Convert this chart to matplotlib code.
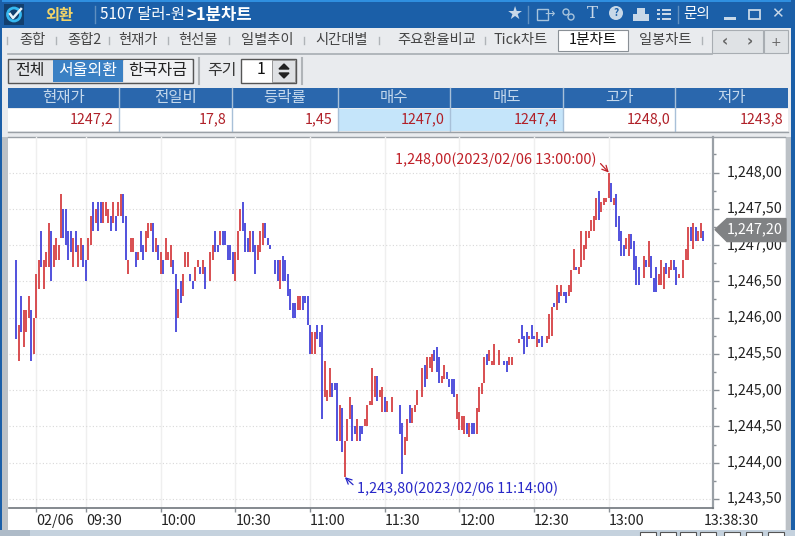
import numpy as np
import matplotlib
matplotlib.use("Agg")
import matplotlib.pyplot as plt
from matplotlib.patches import Rectangle, Polygon, Circle
from matplotlib.ticker import FixedLocator
from matplotlib.transforms import ScaledTranslation

plt.rcParams['font.family'] = ['Noto Sans CJK KR', 'DejaVu Sans']

# 1 minute bars, index 0 = 09:02, nan = no bar that minute
nan = float('nan')
highs = [1246.8, 1245.9, 1246.3, 1246.1, 1246.1, 1246.3, 1246.1, 1246.0, 1246.6, 1246.8,
         1247.2, 1246.8, 1246.9, 1247.3, 1247.2, 1247.0, 1247.1, 1247.0, 1247.7, 1247.5,
         1247.5, 1247.2, 1247.2, 1247.1, 1247.2, 1247.0, 1247.1, 1247.0, 1246.8, 1247.1,
         1247.4, 1247.6, 1247.5, 1247.6, 1247.6, 1247.6, 1247.6, 1247.5, 1247.4, 1247.6,
         1247.4, 1247.6, 1247.7, 1247.7, 1247.4, 1246.8, 1247.1, 1247.1, 1246.9, 1246.9,
         1247.2, 1247.0, 1247.2, 1247.3, 1247.3, 1247.3, 1247.1, 1247.0, 1246.9, 1246.8,
         1247.1, 1246.9, 1247.0, 1246.8, 1246.6, 1246.4, 1246.5, 1246.6, 1246.9, 1246.9,
         1246.6, 1246.5, 1246.7, 1246.8, 1246.7, 1246.8, 1246.7, nan, 1246.9, 1247.0,
         1247.2, 1247.0, 1247.2, 1247.2, 1247.2, 1247.0, 1247.0, 1246.9, 1246.9, 1247.2,
         1247.5, 1247.6, 1247.3, 1247.1, 1247.2, 1247.2, 1247.0, 1247.0, 1247.2, 1247.3,
         1247.3, 1247.1, 1247.0, nan, 1246.8, 1246.8, 1246.8, 1246.85, 1246.8, 1246.6,
         1246.4, 1246.2, 1246.2, 1246.3, 1246.3, 1246.3, 1246.3, 1246.3, 1245.9, 1245.8,
         1245.8, 1245.9, 1245.8, 1245.9, 1245.4, 1245.0, 1245.3, 1245.1, 1245.1, 1245.1,
         1244.8, 1244.75, 1244.3, 1244.6, 1244.9, 1244.8, 1244.5, 1244.6, 1244.5, 1244.5,
         1244.6, 1244.8, 1244.85, 1245.3, 1245.2, 1245.2, 1245.0, 1245.05, 1244.9, 1244.85,
         nan, 1244.9, nan, nan, 1244.8, 1244.55, 1244.35, 1244.6, 1244.8, 1244.75,
         1244.8, 1245.0, nan, 1245.3, 1245.35, 1245.45, 1245.45, 1245.5, 1245.55, 1245.6,
         1245.45, 1245.2, 1245.35, 1245.25, 1245.15, 1245.15, 1245.15, 1244.95, 1244.7, 1244.65,
         1244.65, 1244.55, 1244.55, 1244.55, 1244.55, 1244.75, 1245.05, 1245.1, 1245.45, 1245.5,
         1245.55, 1245.4, 1245.63, nan, 1245.55, nan, 1245.4, 1245.4, 1245.45, 1245.45,
         nan, nan, 1245.7, 1245.9, 1245.75, 1245.8, 1245.75, 1245.9, 1245.75, 1245.8,
         1245.7, 1245.75, nan, 1245.75, 1246.05, 1246.15, 1246.2, 1246.45, 1246.35, 1246.45,
         1246.35, 1246.35, 1246.45, 1246.65, 1246.95, 1246.7, 1246.7, 1247.2, 1247.0, 1247.2,
         1247.2, 1247.35, 1247.4, 1247.65, 1247.75, 1247.6, 1247.65, 1247.65, 1248.0, 1247.85,
         1247.65, 1247.7, 1247.4, 1247.2, 1247.0, 1247.1, 1247.15, 1247.15, 1247.05, 1246.85,
         1246.7, nan, 1246.85, 1246.8, 1247.05, 1246.85, 1246.55, 1246.7, 1246.6, 1246.8,
         1246.7, 1246.75, 1246.7, 1246.8, 1246.8, 1246.7, 1246.6, nan, 1246.8, 1246.95,
         1247.25, 1247.25, 1247.3, 1247.25, 1247.2, 1247.3, 1247.2]
lows = [1245.7, 1245.4, 1245.8, 1245.6, 1245.8, 1246.0, 1245.4, 1245.5, 1246.0, 1246.4,
        1246.7, 1246.4, 1246.7, 1246.7, 1246.5, 1246.7, 1246.8, 1246.8, 1247.1, 1247.1,
        1247.0, 1246.8, 1246.9, 1246.7, 1246.9, 1246.7, 1246.8, 1246.7, 1246.5, 1246.8,
        1247.0, 1247.2, 1247.3, 1247.2, 1247.3, 1247.3, 1247.4, 1247.3, 1247.2, 1247.3,
        1247.2, 1247.4, 1247.4, 1247.3, 1246.8, 1246.6, 1246.9, 1246.9, 1246.7, 1246.8,
        1246.9, 1246.8, 1246.9, 1247.1, 1247.2, 1246.9, 1246.9, 1246.8, 1246.6, 1246.6,
        1246.8, 1246.8, 1246.7, 1246.6, 1245.8, 1246.0, 1246.2, 1246.3, 1246.7, 1246.7,
        1246.5, 1246.4, 1246.5, 1246.7, 1246.6, 1246.6, 1246.4, nan, 1246.5, 1246.8,
        1246.9, 1246.9, 1247.0, 1247.0, 1247.0, 1246.8, 1246.8, 1246.6, 1246.5, 1246.8,
        1247.2, 1247.2, 1246.9, 1246.9, 1246.9, 1246.9, 1246.6, 1246.8, 1246.9, 1247.0,
        1247.1, 1247.0, 1246.95, nan, 1246.6, 1246.5, 1246.4, 1246.5, 1246.5, 1246.3,
        1246.1, 1246.0, 1246.0, 1246.1, 1246.1, 1246.1, 1246.2, 1245.9, 1245.5, 1245.5,
        1245.5, 1245.7, 1245.6, 1244.6, 1244.9, 1244.85, 1244.9, 1244.9, 1245.0, 1244.3,
        1244.3, 1244.15, 1243.8, 1244.3, 1244.6, 1244.3, 1244.4, 1244.3, 1244.3, 1244.4,
        1244.5, 1244.5, 1244.8, 1244.8, 1244.9, 1244.85, 1244.9, 1244.7, 1244.7, 1244.7,
        nan, 1244.7, nan, nan, 1244.4, 1243.85, 1244.1, 1244.3, 1244.55, 1244.55,
        1244.7, 1244.8, nan, 1244.9, 1245.05, 1245.15, 1245.3, 1245.25, 1245.4, 1245.25,
        1245.1, 1245.1, 1245.15, 1245.15, 1245.05, 1244.95, 1244.9, 1244.6, 1244.45, 1244.45,
        1244.4, 1244.4, 1244.35, 1244.4, 1244.4, 1244.4, 1244.7, 1244.95, 1245.1, 1245.35,
        1245.4, 1245.35, 1245.35, nan, 1245.35, nan, 1245.35, 1245.25, 1245.35, 1245.35,
        nan, nan, 1245.65, 1245.7, 1245.5, 1245.6, 1245.7, 1245.7, 1245.7, 1245.6,
        1245.65, 1245.6, nan, 1245.65, 1245.7, 1245.75, 1246.15, 1246.1, 1246.2, 1246.3,
        1246.3, 1246.2, 1246.3, 1246.35, 1246.65, 1246.65, 1246.6, 1246.7, 1246.8, 1246.95,
        1247.1, 1247.2, 1247.2, 1247.35, 1247.35, 1247.45, 1247.55, 1247.6, 1247.65, 1247.6,
        1247.55, 1247.25, 1247.05, 1246.85, 1246.85, 1246.95, 1246.85, 1246.95, 1246.65, 1246.45,
        1246.45, nan, 1246.55, 1246.7, 1246.7, 1246.55, 1246.35, 1246.35, 1246.45, 1246.45,
        1246.4, 1246.6, 1246.55, 1246.65, 1246.65, 1246.45, 1246.55, nan, 1246.55, 1246.8,
        1246.8, 1247.05, 1246.95, 1247.05, 1247.05, 1247.1, 1247.05]
# r = red bar, b = blue bar
dirs = ("brbrrrbrrr" "brrrbrrrrb" "bbbrbrrbbr" "rbrbbrrrbr"
        "brrbbrrrbr" "bbrrrbrbrb" "rrrbbrbrrr" "bbrrbrbxrr"
        "bbrbbbbbrr" "rbbbrbbrrr" "bbbxbbrbbb" "bbbrrbbbbr"
        "rbbbrrrbbb" "rbrrrbbrbb" "rrrrrbrrbr" "xrxxbbrrbr"
        "rrxrbrrrbb" "brrbbbbrrr" "rbrbbrrrrb" "rrrxrxbbrr"
        "xxrbbbrbbr" "bbxrrrbrbr" "bbrrrbrrrr" "rrrrbrrrrb"
        "rbbbbrrbbb" "bxrbrbbbrr" "rbrrbbrxrr" "rbrbrrb")

# axis ticks
y_ticks = [1243.5, 1244.0, 1244.5, 1245.0, 1245.5, 1246.0, 1246.5, 1247.0, 1247.5, 1248.0]
y_labels = ['1,243,50', '1,244,00', '1,244,50', '1,245,00', '1,245,50',
            '1,246,00', '1,246,50', '1,247,00', '1,247,50', '1,248,00']
y_minor = [1243.75, 1244.25, 1244.75, 1245.25, 1245.75, 1246.25, 1246.75, 1247.25, 1247.75, 1248.25]
x_ticks = [8, 28, 58, 88, 118, 148, 178, 208, 238, 276]
x_labels = ['02/06', '09:30', '10:00', '10:30', '11:00', '11:30', '12:00', '12:30', '13:00', '13:38:30']

# window text
tabs = ['종합', '종합2', '현재가', '현선물', '일별추이', '시간대별', '주요환율비교', 'Tick차트', '일봉차트']
tab_x = [32, 84, 138, 198, 267, 342, 437, 521, 665]
table_heads = ['현재가', '전일비', '등락률', '매수', '매도', '고가', '저가']
table_vals = ['1247,2', '17,8', '1,45', '1247,0', '1247,4', '1248,0', '1243,8']
table_edges = [8, 119, 232, 338, 450, 563, 675, 788]

RED = '#d4383c'
BLUE = '#3c3cd8'
HEAD = '#2a67ad'

fig = plt.figure(figsize=(7.95, 5.36), dpi=100)

# window chrome, drawn in pixel coordinates
bg = fig.add_axes([0, 0, 1, 1])
bg.set_xlim(0, 795)
bg.set_ylim(536, 0)
bg.axis('off')


def box(x0, y0, x1, y1, color, edge='none', lw=1):
    bg.add_patch(Rectangle((x0, y0), x1 - x0, y1 - y0, facecolor=color, edgecolor=edge, linewidth=lw))


box(0, 0, 795, 536, '#e9ebee')
box(0, 0, 795, 28, '#1b5fa8')
box(0, 0, 795, 2, '#2f8fe0')
box(0, 0, 2, 536, '#1b5fa8')
box(791, 0, 795, 536, '#1b5fa8')
box(2, 137, 8, 530, '#bcc1c6')
box(786, 137, 791, 530, '#bcc1c6')
box(0, 530, 795, 536, '#c5d2de')
box(0, 530, 30, 536, '#aebbc8')
for x in [640, 660, 680, 700, 724, 746, 768]:
    box(x, 532, x + 16, 537, 'white', '#555555', 0.8)

# logo and title
box(4, 4, 24, 25, '#123f6e')
bg.add_patch(Circle((14, 14.5), 6.5, facecolor='none', edgecolor='#35b8f0', linewidth=2))
bg.plot([10, 13, 21], [14, 18, 9], color='#e8f4fc', lw=1.8)
bg.text(59, 15, '외환', color='#f2d468', fontsize=11, ha='center', va='center', fontweight='bold')
bg.plot([95, 95], [6, 23], color='#5f8fc0', lw=1)
bg.text(100, 15, '5107 달러-원', color='white', fontsize=11, ha='left', va='center')
bg.text(186, 15, '>1분차트', color='white', fontsize=12, ha='left', va='center', fontweight='bold')
bg.text(515, 14, '★', color='#c8d8e8', fontsize=13, ha='center', va='center', family='DejaVu Sans')
bg.plot([528, 528], [6, 23], color='#5f8fc0', lw=1)
box(537, 9, 548, 20, 'none', '#a8c4dc', 1)
bg.text(550, 14, '→', color='#a8c4dc', fontsize=9, ha='center', va='center', family='DejaVu Sans')
bg.add_patch(Circle((566, 12), 3, facecolor='none', edgecolor='#a8c4dc', linewidth=1))
bg.add_patch(Circle((571, 17), 3, facecolor='none', edgecolor='#a8c4dc', linewidth=1))
bg.text(592, 14, 'T', color='#c8d8e8', fontsize=12, ha='center', va='center', family='DejaVu Serif')
bg.add_patch(Circle((616, 13), 7, facecolor='#c8d8e8'))
bg.text(616, 12.5, '?', color='#1b5fa8', fontsize=7.5, ha='center', va='center', fontweight='bold')
box(633, 14, 649, 21, '#c8d8e8')
box(637, 8, 645, 14, '#c8d8e8')
for yy in [10, 14, 19]:
    box(657, yy - 1, 660, yy + 1, '#c8d8e8')
    box(662, yy - 1, 671, yy + 1, '#c8d8e8')
bg.plot([678, 678], [6, 23], color='#5f8fc0', lw=1)
bg.text(697, 14, '문의', color='white', fontsize=10.5, ha='center', va='center')
box(724, 17, 736, 20, '#c8d8e8')
box(749, 10, 760, 19, 'none', '#c8d8e8', 1.3)
bg.text(777, 14, '✕', color='#c8d8e8', fontsize=11, ha='center', va='center', family='DejaVu Sans', fontweight='bold')

# tab row
for name, x in zip(tabs, tab_x):
    bg.text(x, 40, name, color='#444444', fontsize=10.3, ha='center', va='center')
for x in [7, 56, 109, 168, 229, 304, 379, 485, 702]:
    bg.plot([x, x], [37, 44], color='#b0b4b8', lw=1)
box(558, 30, 628, 51, 'white', '#8a9096', 0.8)
bg.text(593, 40, '1분차트', color='#111111', fontsize=10.5, ha='center', va='center')
box(712, 30, 763, 53, '#dfe2e5', '#a8adb2', 0.8)
box(764, 30, 788, 53, '#dfe2e5', '#a8adb2', 0.8)
bg.text(725, 42, '‹', color='#666666', fontsize=11, ha='center', va='center', fontweight='bold', family='DejaVu Sans')
bg.text(750, 42, '›', color='#666666', fontsize=11, ha='center', va='center', fontweight='bold', family='DejaVu Sans')
bg.text(776, 42, '+', color='#666666', fontsize=9, ha='center', va='center', family='DejaVu Sans')
bg.plot([8, 712], [53.5, 53.5], color='#a8adb2', lw=1.2)

# filter buttons
box(8, 59, 193, 83, '#e3e5e8', '#555555', 1)
box(53, 60, 123, 82, '#3a80c4')
box(124, 60, 192, 82, '#f0f1f3')
bg.text(30, 70, '전체', color='#222222', fontsize=11.5, ha='center', va='center')
bg.text(88, 70, '서울외환', color='white', fontsize=11.5, ha='center', va='center')
bg.text(158, 70, '한국자금', color='#222222', fontsize=11.5, ha='center', va='center')
bg.plot([199, 199], [58, 84], color='#b0b4b8', lw=1.5)
bg.text(222, 70, '주기', color='#333333', fontsize=11.5, ha='center', va='center')
box(241, 59, 296, 83, 'white', '#555555', 1)
box(272, 60, 295, 82, '#dfe1e4', '#888888', 0.6)
bg.text(261, 70, '1', color='#111111', fontsize=11.5, ha='center', va='center')
bg.add_patch(Polygon([[279, 69], [289, 69], [284, 64]], color='#222222'))
bg.add_patch(Polygon([[279, 73], [289, 73], [284, 78]], color='#222222'))
bg.plot([302, 302], [58, 84], color='#b0b4b8', lw=1.5)

# quote table
box(8, 88, 788, 108, HEAD)
for i in range(7):
    x0, x1 = table_edges[i], table_edges[i + 1]
    bg.text((x0 + x1) / 2, 97.5, table_heads[i], color='#c4d8ec', fontsize=11.2, ha='center', va='center')
    box(x0, 109, x1, 131, '#c5e5fa' if i in (3, 4) else 'white')
    bg.text(x1 - 5, 119.5, table_vals[i], color='#b02028', fontsize=10.3, ha='right', va='center')
    if i > 0:
        bg.plot([x0, x0], [88, 131], color='#a8c0d8', lw=1)
bg.plot([8, 788], [131.5, 131.5], color='#9aa0a6', lw=1)

# chart panel
box(8, 137, 785, 530, 'white')
bg.plot([8, 785], [137, 137], color='#9aa0a6', lw=1)

# chart axes, x = minutes after 09:02
ax = fig.add_axes([9 / 795, 1 - 508 / 536, 704 / 795, 371 / 536])
ax.set_xlim(-2.88, 279.85)
ax.set_ylim(1243.375, 1248.49)
ax.patch.set_alpha(0)

idx = np.arange(len(highs))
high = np.array(highs)
low = np.array(lows)
flags = np.array(list(dirs))
ax.vlines(idx[flags == 'r'], low[flags == 'r'], high[flags == 'r'], color=RED, lw=1.25, zorder=3)
ax.vlines(idx[flags == 'b'], low[flags == 'b'], high[flags == 'b'], color=BLUE, lw=1.25, zorder=3)

ax.yaxis.tick_right()
ax.set_yticks(y_ticks)
ax.set_yticklabels(y_labels, fontsize=10.3, color='#222222')
ax.yaxis.set_minor_locator(FixedLocator(y_minor))
ax.tick_params(axis='y', which='major', length=4, width=1, color='#8a9096', pad=6)
ax.tick_params(axis='y', which='minor', length=2, width=1, color='#8a9096')
ax.set_xticks(x_ticks)
ax.set_xticklabels(x_labels, fontsize=10.3, color='#222222', ha='left')
ax.tick_params(axis='x', length=3, width=1, color='#8a9096', pad=1)
ax.grid(axis='y', color='#d8d8d8', lw=0.8, ls=(0, (1, 2)), zorder=1)
ax.grid(axis='x', color='#efefef', lw=1, zorder=1)
ax.xaxis.get_major_ticks()[-1].gridline.set_visible(False)
ax.xaxis.get_major_ticks()[-1].tick1line.set_visible(False)
# tick labels sit a little above their gridline in the original
up = ScaledTranslation(0, 1.7 / 100, fig.dpi_scale_trans)
for lab in ax.get_yticklabels():
    lab.set_transform(lab.get_transform() + up)

for side in ['top', 'left']:
    ax.spines[side].set_visible(False)
ax.spines['right'].set_color('#9aa0a6')
ax.spines['right'].set_linewidth(1.6)
ax.spines['bottom'].set_color('#70767c')
ax.spines['bottom'].set_linewidth(1.2)

# high and low callouts
i_high = int(np.nanargmax(high))
i_low = int(np.nanargmin(low))
ax.annotate('1,248,00(2023/02/06 13:00:00)', xy=(i_high, high[i_high]), xytext=(-12, 13),
            textcoords='offset pixels', color='#c02028', fontsize=10.4, ha='right', va='center',
            arrowprops=dict(arrowstyle='->', color='#c02028', lw=0.9, shrinkA=1, shrinkB=0, relpos=(1, 0.5)))
ax.annotate('1,243,80(2023/02/06 11:14:00)', xy=(i_low, low[i_low]), xytext=(12, -11),
            textcoords='offset pixels', color='#2828c8', fontsize=10.4, ha='left', va='center',
            arrowprops=dict(arrowstyle='->', color='#2828c8', lw=0.9, shrinkA=1, shrinkB=0, relpos=(0, 0.5)))

# last price tag
last = 1247.2
tag_y = ax.transData.transform((0, last))[1]
tag_top = 536 - tag_y
tag = fig.add_axes([0, 0, 1, 1])
tag.set_xlim(0, 795)
tag.set_ylim(536, 0)
tag.axis('off')
tag.add_patch(Polygon([[715, tag_top - 1], [727, tag_top - 12], [786, tag_top - 12],
                       [786, tag_top + 11], [727, tag_top + 11]], color='#808284'))
tag.text(755, tag_top - 1, '1,247,20', color='white', fontsize=10.3, ha='center', va='center')
bg.set_zorder(0)
ax.set_zorder(1)
tag.set_zorder(2)

fig.savefig('out.png', dpi=100)
